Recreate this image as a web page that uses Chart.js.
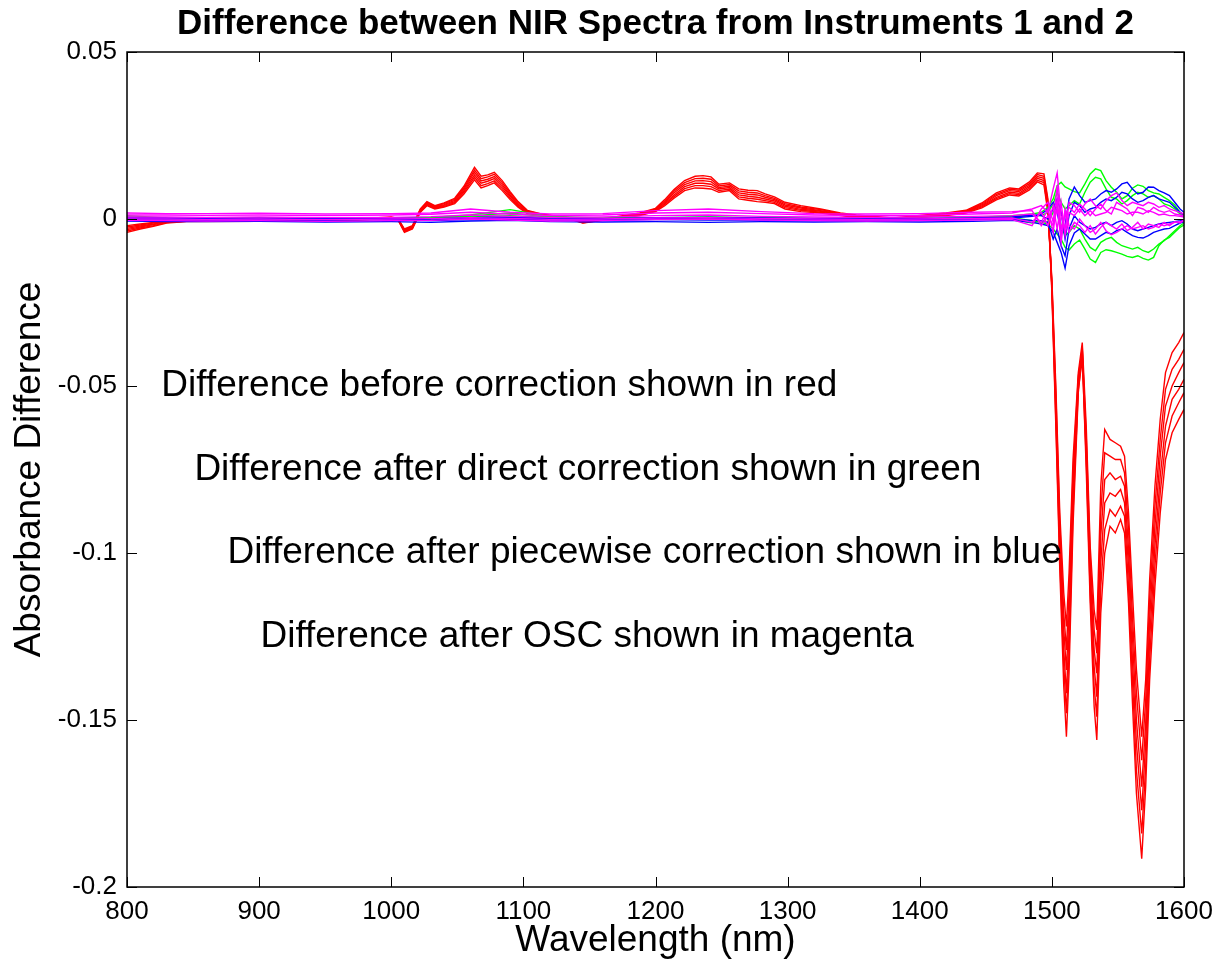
<!DOCTYPE html>
<html>
<head>
<meta charset="utf-8">
<title>Difference between NIR Spectra from Instruments 1 and 2</title>
<script src="https://cdn.jsdelivr.net/npm/chart.js@4/dist/chart.umd.min.js"></script>
<style>
    html, body { margin: 0; padding: 0; background: #fff; }
    #marco { width: 1218px; height: 965px; }
</style>
</head>
<body>
<div id="marco"><canvas id="grafica"></canvas></div>
<script>
// wavelength grid (nm) used by the uncorrected (red) spectra
const wavelengths = [
    800, 810, 820, 830, 845, 900, 960, 1000, 1005, 1010,
    1016, 1022, 1027, 1033, 1040, 1048, 1055, 1063, 1068, 1073,
    1078, 1084, 1090, 1096, 1103, 1115, 1135, 1145, 1160, 1188,
    1200, 1207, 1214, 1222, 1230, 1236, 1242, 1248, 1256, 1263,
    1270, 1277, 1283, 1290, 1298, 1310, 1325, 1340, 1352, 1380,
    1420, 1435, 1447, 1458, 1468, 1475, 1483, 1489, 1494, 1497,
    1500, 1503, 1506, 1509, 1511, 1513, 1516, 1520, 1523, 1526,
    1529, 1532, 1534, 1537, 1540, 1544, 1548, 1552, 1555, 1558,
    1561, 1564, 1568, 1571, 1574, 1578, 1582, 1586, 1591, 1596,
    1600,
];

// difference before correction (red)
const red1 = [
    -0.0020, -0.0015, -0.0010, -0.0006, -0.0004, -0.0004, -0.0003, 0.0006, 0.0002, -0.0030,
    -0.0020, 0.0030, 0.0052, 0.0040, 0.0048, 0.0062, 0.0098, 0.0155, 0.0128, 0.0132,
    0.0140, 0.0115, 0.0082, 0.0052, 0.0026, 0.0014, 0.0004, -0.0008, 0.0000, 0.0018,
    0.0032, 0.0058, 0.0088, 0.0115, 0.0128, 0.0130, 0.0126, 0.0104, 0.0108, 0.0090,
    0.0086, 0.0085, 0.0075, 0.0066, 0.0050, 0.0040, 0.0030, 0.0018, 0.0012, 0.0003,
    0.0018, 0.0026, 0.0048, 0.0078, 0.0093, 0.0090, 0.0111, 0.0138, 0.0135, 0.0060,
    -0.022, -0.062, -0.105, -0.140, -0.155, -0.136, -0.092, -0.052, -0.040, -0.075,
    -0.115, -0.146, -0.156, -0.118, -0.100, -0.092, -0.094, -0.090, -0.094, -0.115,
    -0.145, -0.172, -0.1915, -0.170, -0.138, -0.110, -0.088, -0.072, -0.064, -0.060,
    -0.057,
];
const red2 = [
    -0.0024, -0.0018, -0.0012, -0.0007, -0.0005, -0.0005, -0.0004, 0.0005, 0.0001, -0.0032,
    -0.0022, 0.0028, 0.0050, 0.0038, 0.0046, 0.0059, 0.0093, 0.0147, 0.0121, 0.0126,
    0.0134, 0.0109, 0.0077, 0.0049, 0.0024, 0.0013, 0.0003, -0.0009, -0.0001, 0.0016,
    0.0030, 0.0054, 0.0083, 0.0109, 0.0121, 0.0122, 0.0119, 0.0099, 0.0103, 0.0084,
    0.0080, 0.0078, 0.0070, 0.0062, 0.0046, 0.0036, 0.0028, 0.0016, 0.0010, 0.0002,
    0.0016, 0.0024, 0.0045, 0.0074, 0.0089, 0.0086, 0.0106, 0.0133, 0.0128, 0.0052,
    -0.020, -0.055, -0.095, -0.123, -0.135, -0.118, -0.080, -0.048, -0.041, -0.067,
    -0.105, -0.129, -0.136, -0.095, -0.078, -0.076, -0.078, -0.077, -0.080, -0.099,
    -0.125, -0.150, -0.170, -0.151, -0.120, -0.092, -0.071, -0.056, -0.050, -0.046,
    -0.043,
];
const red3 = [
    -0.0028, -0.0021, -0.0015, -0.0008, -0.0006, -0.0005, -0.0005, 0.0004, 0.0000, -0.0034,
    -0.0024, 0.0026, 0.0047, 0.0036, 0.0043, 0.0056, 0.0089, 0.0140, 0.0114, 0.0119,
    0.0127, 0.0103, 0.0072, 0.0045, 0.0022, 0.0012, 0.0002, -0.0010, -0.0002, 0.0015,
    0.0028, 0.0051, 0.0078, 0.0103, 0.0114, 0.0115, 0.0112, 0.0094, 0.0099, 0.0078,
    0.0074, 0.0072, 0.0065, 0.0058, 0.0042, 0.0033, 0.0025, 0.0015, 0.0009, 0.0001,
    0.0015, 0.0023, 0.0042, 0.0070, 0.0085, 0.0082, 0.0101, 0.0127, 0.0122, 0.0044,
    -0.021, -0.060, -0.102, -0.134, -0.148, -0.130, -0.088, -0.051, -0.042, -0.072,
    -0.112, -0.140, -0.149, -0.110, -0.093, -0.087, -0.089, -0.086, -0.089, -0.110,
    -0.138, -0.165, -0.184, -0.164, -0.132, -0.104, -0.082, -0.067, -0.059, -0.055,
    -0.052,
];
const red4 = [
    -0.0032, -0.0024, -0.0017, -0.0010, -0.0006, -0.0006, -0.0005, 0.0004, 0.0000, -0.0036,
    -0.0026, 0.0024, 0.0045, 0.0034, 0.0041, 0.0052, 0.0084, 0.0132, 0.0107, 0.0113,
    0.0121, 0.0097, 0.0068, 0.0042, 0.0020, 0.0010, 0.0002, -0.0010, -0.0002, 0.0013,
    0.0026, 0.0047, 0.0072, 0.0097, 0.0107, 0.0107, 0.0104, 0.0090, 0.0094, 0.0072,
    0.0068, 0.0065, 0.0060, 0.0054, 0.0038, 0.0029, 0.0023, 0.0013, 0.0007, 0.0001,
    0.0013, 0.0021, 0.0039, 0.0065, 0.0080, 0.0077, 0.0097, 0.0122, 0.0115, 0.0036,
    -0.019, -0.052, -0.091, -0.118, -0.129, -0.112, -0.076, -0.047, -0.039, -0.065,
    -0.101, -0.123, -0.130, -0.088, -0.070, -0.071, -0.072, -0.072, -0.076, -0.093,
    -0.119, -0.142, -0.162, -0.144, -0.114, -0.086, -0.066, -0.051, -0.045, -0.042,
    -0.039,
];
const red5 = [
    -0.0036, -0.0027, -0.0020, -0.0011, -0.0007, -0.0006, -0.0006, 0.0003, -0.0001, -0.0038,
    -0.0028, 0.0022, 0.0042, 0.0032, 0.0038, 0.0049, 0.0080, 0.0125, 0.0100, 0.0106,
    0.0114, 0.0091, 0.0063, 0.0038, 0.0018, 0.0009, 0.0001, -0.0011, -0.0003, 0.0012,
    0.0024, 0.0044, 0.0067, 0.0091, 0.0100, 0.0100, 0.0097, 0.0085, 0.0090, 0.0066,
    0.0062, 0.0059, 0.0055, 0.0050, 0.0034, 0.0026, 0.0020, 0.0012, 0.0006, 0.0000,
    0.0012, 0.0020, 0.0036, 0.0061, 0.0076, 0.0073, 0.0092, 0.0116, 0.0109, 0.0028,
    -0.020, -0.057, -0.098, -0.129, -0.142, -0.124, -0.084, -0.050, -0.038, -0.070,
    -0.108, -0.134, -0.143, -0.103, -0.085, -0.082, -0.083, -0.081, -0.085, -0.104,
    -0.132, -0.157, -0.177, -0.157, -0.126, -0.098, -0.077, -0.062, -0.054, -0.051,
    -0.048,
];
const red6 = [
    -0.0040, -0.0030, -0.0022, -0.0012, -0.0008, -0.0007, -0.0007, 0.0002, -0.0002, -0.0040,
    -0.0030, 0.0020, 0.0040, 0.0030, 0.0036, 0.0046, 0.0075, 0.0117, 0.0093, 0.0100,
    0.0108, 0.0085, 0.0058, 0.0035, 0.0016, 0.0008, 0.0000, -0.0012, -0.0004, 0.0010,
    0.0022, 0.0040, 0.0062, 0.0085, 0.0093, 0.0092, 0.0090, 0.0080, 0.0085, 0.0060,
    0.0056, 0.0052, 0.0050, 0.0046, 0.0030, 0.0022, 0.0018, 0.0010, 0.0004, -0.0001,
    0.0010, 0.0018, 0.0033, 0.0057, 0.0072, 0.0069, 0.0087, 0.0111, 0.0102, 0.0020,
    -0.018, -0.050, -0.088, -0.112, -0.122, -0.106, -0.072, -0.046, -0.037, -0.062,
    -0.098, -0.117, -0.123, -0.080, -0.063, -0.066, -0.067, -0.068, -0.071, -0.088,
    -0.112, -0.135, -0.155, -0.138, -0.108, -0.080, -0.060, -0.046, -0.040, -0.037,
    -0.034,
];

// wavelength grid (nm) used by the corrected spectra
const corrWavelengths = [
    800, 830, 860, 900, 950, 1000, 1030, 1060, 1090, 1120,
    1160, 1200, 1240, 1280, 1320, 1360, 1400, 1440, 1470, 1485,
    1492, 1497, 1501, 1504, 1507, 1510, 1513, 1517, 1521, 1525,
    1529, 1533, 1537, 1541, 1545, 1549, 1553, 1557, 1561, 1565,
    1569, 1573, 1577, 1581, 1585, 1589, 1593, 1597, 1600,
];

// difference after direct correction (green)
const green1 = [
    0.0010, 0.0003, 0.0002, 0.0004, 0.0002, 0.0003, 0.0005, 0.0012, 0.0028, 0.0008,
    0.0003, 0.0004, 0.0006, 0.0004, 0.0002, 0.0003, 0.0002, 0.0004, 0.0010, 0.0015,
    0.0020, 0.0035, 0.0060, 0.0100, 0.0110, 0.0096, 0.0090, 0.0082, 0.0078, 0.0105,
    0.0135, 0.0150, 0.0145, 0.0115, 0.0095, 0.0080, 0.0060, 0.0070, 0.0092, 0.0102,
    0.0098, 0.0085, 0.0078, 0.0075, 0.0065, 0.0055, 0.0042, 0.0020, 0.0008,
];
const green2 = [
    0.0004, 0.0001, 0.0000, 0.0002, 0.0001, 0.0000, 0.0002, 0.0006, 0.0010, 0.0004,
    0.0001, 0.0002, 0.0003, 0.0002, 0.0001, 0.0001, 0.0000, 0.0001, 0.0004, -0.0005,
    -0.0010, -0.0015, -0.0030, -0.0045, -0.0060, -0.0085, -0.0093, -0.0075, -0.0063, -0.0090,
    -0.0120, -0.0130, -0.0100, -0.0092, -0.0095, -0.0100, -0.0105, -0.0112, -0.0115, -0.0110,
    -0.0118, -0.0123, -0.0115, -0.0080, -0.0063, -0.0055, -0.0040, -0.0025, -0.0018,
];
const green3 = [
    -0.0002, -0.0002, -0.0003, -0.0001, -0.0002, -0.0002, 0.0000, 0.0003, 0.0005, 0.0000,
    -0.0002, 0.0000, 0.0001, 0.0000, -0.0002, -0.0001, -0.0002, 0.0000, 0.0000, -0.0012,
    -0.0005, -0.0010, 0.0020, 0.0040, -0.0020, -0.0050, -0.0040, -0.0020, -0.0030, -0.0060,
    -0.0085, -0.0095, -0.0070, -0.0060, -0.0055, -0.0070, -0.0080, -0.0085, -0.0090, -0.0085,
    -0.0095, -0.0100, -0.0090, -0.0075, -0.0065, -0.0050, -0.0035, -0.0020, -0.0012,
];
const green4 = [
    0.0006, 0.0002, 0.0001, 0.0003, 0.0001, 0.0002, 0.0003, 0.0009, 0.0018, 0.0006,
    0.0002, 0.0003, 0.0005, 0.0003, 0.0001, 0.0002, 0.0001, 0.0002, 0.0008, 0.0010,
    0.0010, 0.0020, 0.0045, 0.0080, 0.0050, 0.0030, 0.0040, 0.0055, 0.0045, 0.0080,
    0.0110, 0.0125, 0.0120, 0.0090, 0.0065, 0.0060, 0.0045, 0.0055, 0.0070, 0.0080,
    0.0075, 0.0065, 0.0070, 0.0060, 0.0045, 0.0040, 0.0030, 0.0015, 0.0005,
];

// difference after piecewise correction (blue)
const blue1 = [
    0.0002, 0.0001, -0.0001, 0.0000, -0.0001, 0.0001, -0.0003, 0.0002, 0.0004, 0.0000,
    -0.0002, 0.0002, 0.0003, 0.0001, -0.0001, 0.0000, -0.0001, 0.0001, 0.0003, 0.0008,
    0.0015, 0.0030, 0.0050, 0.0020, -0.0040, -0.0020, 0.0060, 0.0096, 0.0070, 0.0050,
    0.0055, 0.0060, 0.0075, 0.0085, 0.0080, 0.0090, 0.0105, 0.0110, 0.0090, 0.0075,
    0.0080, 0.0096, 0.0095, 0.0085, 0.0078, 0.0070, 0.0050, 0.0030, 0.0020,
];
const blue2 = [
    -0.0006, -0.0008, -0.0008, -0.0007, -0.0009, -0.0008, -0.0010, -0.0006, -0.0004, -0.0008,
    -0.0009, -0.0008, -0.0010, -0.0008, -0.0009, -0.0008, -0.0009, -0.0007, -0.0004, -0.0010,
    -0.0015, -0.0020, -0.0040, -0.0070, -0.0100, -0.0147, -0.0080, -0.0042, -0.0030, -0.0045,
    -0.0060, -0.0060, -0.0050, -0.0040, -0.0045, -0.0035, -0.0030, -0.0040, -0.0050, -0.0055,
    -0.0057, -0.0050, -0.0040, -0.0035, -0.0030, -0.0028, -0.0020, -0.0012, -0.0008,
];
const blue3 = [
    0.0005, 0.0003, 0.0002, 0.0003, 0.0002, 0.0003, 0.0001, 0.0004, 0.0006, 0.0003,
    0.0001, 0.0004, 0.0005, 0.0003, 0.0002, 0.0003, 0.0002, 0.0003, 0.0006, 0.0012,
    0.0010, 0.0000, 0.0030, 0.0060, 0.0020, -0.0060, 0.0010, 0.0050, 0.0040, 0.0020,
    0.0030, 0.0035, 0.0050, 0.0060, 0.0055, 0.0065, 0.0080, 0.0075, 0.0060, 0.0050,
    0.0055, 0.0065, 0.0070, 0.0060, 0.0055, 0.0050, 0.0035, 0.0020, 0.0012,
];
const blue4 = [
    -0.0002, -0.0003, -0.0004, -0.0003, -0.0004, -0.0002, -0.0005, -0.0002, 0.0000, -0.0003,
    -0.0004, -0.0002, -0.0003, -0.0003, -0.0004, -0.0003, -0.0004, -0.0002, 0.0000, -0.0004,
    -0.0005, -0.0010, -0.0060, -0.0030, -0.0080, -0.0110, -0.0030, 0.0010, -0.0010, -0.0020,
    -0.0030, -0.0025, -0.0015, -0.0010, -0.0020, -0.0010, -0.0005, -0.0015, -0.0030, -0.0035,
    -0.0030, -0.0025, -0.0020, -0.0015, -0.0012, -0.0010, -0.0008, -0.0005, -0.0002,
];

// difference after OSC (magenta)
const magenta1 = [
    0.0012, 0.0012, 0.0011, 0.0012, 0.0010, 0.0012, 0.0014, 0.0020, 0.0014, 0.0010,
    0.0012, 0.0018, 0.0020, 0.0016, 0.0012, 0.0010, 0.0011, 0.0015, 0.0018, 0.0030,
    0.0040, 0.0020, 0.0090, 0.0138, 0.0010, -0.0030, 0.0050, 0.0040, 0.0020, 0.0045,
    0.0060, 0.0040, 0.0030, 0.0055, 0.0070, 0.0078, 0.0055, 0.0040, 0.0050, 0.0045,
    0.0040, 0.0050, 0.0045, 0.0035, 0.0040, 0.0030, 0.0025, 0.0020, 0.0015,
];
const magenta2 = [
    0.0006, 0.0006, 0.0005, 0.0006, 0.0004, 0.0005, 0.0007, 0.0012, 0.0008, 0.0005,
    0.0006, 0.0010, 0.0012, 0.0008, 0.0006, 0.0005, 0.0006, 0.0008, 0.0010, 0.0015,
    -0.0010, 0.0030, -0.0040, 0.0060, -0.0072, 0.0030, -0.0020, -0.0030, 0.0000, -0.0020,
    -0.0040, -0.0030, -0.0010, -0.0035, -0.0047, -0.0040, -0.0030, -0.0020, -0.0030, -0.0025,
    -0.0020, -0.0030, -0.0025, -0.0015, -0.0020, -0.0015, -0.0010, -0.0008, -0.0005,
];
const magenta3 = [
    0.0000, 0.0000, -0.0001, 0.0000, -0.0002, 0.0000, 0.0001, 0.0004, 0.0002, -0.0001,
    0.0000, 0.0003, 0.0004, 0.0002, 0.0000, -0.0001, 0.0000, 0.0002, 0.0003, -0.0010,
    0.0020, -0.0020, 0.0040, -0.0030, 0.0050, -0.0050, 0.0020, 0.0010, 0.0030, 0.0010,
    0.0025, 0.0010, 0.0015, 0.0020, 0.0035, 0.0030, 0.0025, 0.0015, 0.0020, 0.0020,
    0.0015, 0.0025, 0.0020, 0.0012, 0.0015, 0.0010, 0.0010, 0.0008, 0.0006,
];
const magenta4 = [
    0.0018, 0.0016, 0.0016, 0.0017, 0.0015, 0.0016, 0.0018, 0.0030, 0.0020, 0.0015,
    0.0016, 0.0025, 0.0030, 0.0022, 0.0016, 0.0015, 0.0016, 0.0020, 0.0022, 0.0025,
    -0.0020, 0.0010, -0.0020, 0.0030, -0.0050, 0.0020, -0.0040, -0.0010, -0.0020, -0.0040,
    -0.0020, -0.0045, -0.0025, -0.0010, -0.0020, -0.0030, -0.0015, -0.0035, -0.0025, -0.0010,
    -0.0030, -0.0015, -0.0020, -0.0025, -0.0010, -0.0020, -0.0008, -0.0012, -0.0004,
];
const magenta5 = [
    -0.0004, -0.0005, -0.0006, -0.0005, -0.0007, -0.0005, -0.0004, 0.0000, -0.0003, -0.0006,
    -0.0005, -0.0002, 0.0000, -0.0003, -0.0005, -0.0006, -0.0005, -0.0003, -0.0002, -0.0020,
    0.0030, 0.0050, -0.0010, 0.0100, -0.0030, 0.0010, 0.0035, 0.0020, 0.0045, 0.0030,
    0.0010, 0.0030, 0.0045, 0.0025, 0.0015, 0.0050, 0.0040, 0.0030, 0.0010, 0.0035,
    0.0030, 0.0020, 0.0035, 0.0025, 0.0020, 0.0025, 0.0015, 0.0012, 0.0010,
];

const xTickValues = [800, 900, 1000, 1100, 1200, 1300, 1400, 1500, 1600];
const xTickLabels = ["800", "900", "1000", "1100", "1200", "1300", "1400", "1500", "1600"];
const yTickValues = [-0.2, -0.15, -0.1, -0.05, 0, 0.05];
const yTickLabels = ["-0.2", "-0.15", "-0.1", "-0.05", "0", "0.05"];

const notas = [
    { texto: "Difference before correction shown in red", x: 826, y: -0.05 },
    { texto: "Difference after direct correction shown in green", x: 851, y: -0.075 },
    { texto: "Difference after piecewise correction shown in blue", x: 876, y: -0.1 },
    { texto: "Difference after OSC shown in magenta", x: 901, y: -0.125 },
];

const fuente = '"Liberation Sans", Arial, Helvetica, sans-serif';
Chart.defaults.font.family = fuente;
Chart.defaults.color = "#000";

function serie(ejeX, valores, color, orden) {
    return {
        data: valores.map((v, i) => ({ x: ejeX[i], y: v })),
        borderColor: color,
        borderWidth: 1.4,
        pointRadius: 0,
        tension: 0,
        fill: false,
        order: orden,
    };
}

const datasets = [];
[red1, red2, red3, red4, red5, red6].forEach((s) => datasets.push(serie(wavelengths, s, "#ff0000", 4)));
[green1, green2, green3, green4].forEach((s) => datasets.push(serie(corrWavelengths, s, "#00ff00", 3)));
[blue1, blue2, blue3, blue4].forEach((s) => datasets.push(serie(corrWavelengths, s, "#0000ff", 2)));
[magenta1, magenta2, magenta3, magenta4, magenta5].forEach((s) => datasets.push(serie(corrWavelengths, s, "#ff00ff", 1)));

// box around the axes, inward ticks on all four sides, and the text notes
const cajaMatlab = {
    id: "cajaMatlab",
    afterDraw(chart) {
        const { ctx, chartArea: a, scales: { x, y } } = chart;
        ctx.save();

        ctx.fillStyle = "#000";
        ctx.font = "37px " + fuente;
        ctx.textBaseline = "middle";
        ctx.textAlign = "left";
        notas.forEach((n) => {
            ctx.fillText(n.texto, x.getPixelForValue(n.x), y.getPixelForValue(n.y));
        });

        ctx.strokeStyle = "#000";
        ctx.lineWidth = 1.5;
        ctx.strokeRect(a.left, a.top, a.right - a.left, a.bottom - a.top);
        ctx.lineWidth = 1;
        ctx.beginPath();
        x.ticks.forEach((t) => {
            const px = Math.round(x.getPixelForValue(t.value)) + 0.5;
            ctx.moveTo(px, a.bottom);
            ctx.lineTo(px, a.bottom - 10);
            ctx.moveTo(px, a.top);
            ctx.lineTo(px, a.top + 10);
        });
        y.ticks.forEach((t) => {
            const py = Math.round(y.getPixelForValue(t.value)) + 0.5;
            ctx.moveTo(a.left, py);
            ctx.lineTo(a.left + 10, py);
            ctx.moveTo(a.right, py);
            ctx.lineTo(a.right - 10, py);
        });
        ctx.stroke();
        ctx.restore();
    },
};

const ctx = document.getElementById("grafica");
const grafica = new Chart(ctx, {
    type: "line",
    data: { datasets },
    options: {
        responsive: true,
        maintainAspectRatio: false,
        animation: false,
        layout: { padding: { left: 0, right: 34, top: 0, bottom: 0 } },
        plugins: {
            legend: { display: false },
            tooltip: { enabled: false },
            title: {
                display: true,
                text: "Difference between NIR Spectra from Instruments 1 and 2",
                fullSize: false,
                color: "#000",
                font: { size: 35, weight: "bold" },
                padding: { top: 3, bottom: 7 },
            },
        },
        scales: {
            x: {
                type: "linear",
                min: 800,
                max: 1600,
                afterBuildTicks: (scale) => {
                    scale.ticks = xTickValues.map((value) => ({ value }));
                },
                afterFit: (scale) => {
                    scale.height = 78;
                    scale.paddingLeft = 0;
                    scale.paddingRight = 0;
                },
                ticks: {
                    autoSkip: false,
                    maxRotation: 0,
                    padding: 9,
                    font: { size: 26 },
                    callback: (value) => xTickLabels[xTickValues.indexOf(value)],
                },
                grid: { display: false, drawTicks: false },
                border: { display: false },
                title: {
                    display: true,
                    text: "Wavelength (nm)",
                    font: { size: 37 },
                    padding: { top: 0, bottom: 2 },
                },
            },
            y: {
                type: "linear",
                min: -0.2,
                max: 0.05,
                afterBuildTicks: (scale) => {
                    scale.ticks = yTickValues.map((value) => ({ value }));
                },
                afterFit: (scale) => {
                    scale.width = 127;
                    scale.paddingTop = 0;
                    scale.paddingBottom = 0;
                },
                ticks: {
                    padding: 10,
                    font: { size: 26 },
                    callback: (value) => yTickLabels[yTickValues.indexOf(value)],
                },
                grid: { display: false, drawTicks: false },
                border: { display: false },
                title: {
                    display: true,
                    text: "Absorbance Difference",
                    font: { size: 37 },
                    padding: { top: 8, bottom: 0 },
                },
            },
        },
    },
    plugins: [cajaMatlab],
});
</script>
</body>
</html>
